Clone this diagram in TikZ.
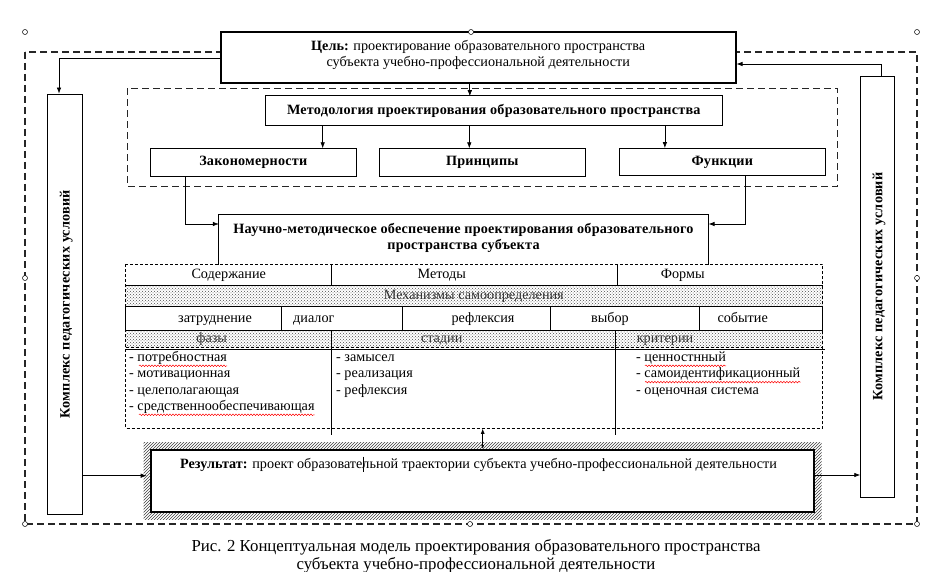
\documentclass[tikz,border=0pt]{standalone}
\usepackage{fontspec}
\setmainfont{Liberation Serif}
\newfontfamily\spc[LetterSpace=1.5]{Liberation Serif}
\usetikzlibrary{arrows.meta,patterns,decorations.pathmorphing}
\begin{document}
\begin{tikzpicture}[x=1pt,y=-1pt,
 box/.style={draw,line width=0.8pt,inner sep=0pt,align=center,font=\fontsize{14.2}{16.3}\selectfont},
 tb/.style={inner sep=0pt,text height=9.5pt,text depth=2.5pt,font=\fontsize{14.2}{16.3}\selectfont},
 arr/.style={-{Latex[length=6pt,width=4.5pt]},line width=0.7pt},
 bigdash/.style={dash pattern=on 7pt off 4pt,line width=1.4pt,draw=black!85},
 thindash/.style={dash pattern=on 3pt off 2pt,line width=0.6pt},
 dotrow/.style={pattern=crosshatch dots,pattern color=black!70},
 handle/.style={draw,fill=white,line width=0.5pt,circle,inner sep=0pt,minimum size=5pt},
 spell/.style={draw=red,line width=0.5pt,decorate,decoration={snake,amplitude=0.8pt,segment length=3pt}}
]
\useasboundingbox (0,0) rectangle (937,572);
\fill[white] (0,0) rectangle (937,572);

% outer dashed frame
\draw[bigdash] (25,52) rectangle (917,524);
% inner dashed frame
\draw[bigdash] (127.7,88.3) rectangle (837.3,186.7);

% goal
\node[box,line width=1.6pt,minimum width=515pt,minimum height=50.7pt,fill=white] (goal) at (478.2,57.4) {};
\node[tb,anchor=base] (goal1) at (478.2,50.5) {\textbf{Цель:} проектирование образовательного пространства};
\node[tb,anchor=base] (goal2) at (478.2,66.5) {субъекта учебно-профессиональной деятельности};

% methodology
\node[box,minimum width=457pt,minimum height=29.6pt] (meth) at (493.8,110.5) {\spc\bfseries Методология проектирования образовательного пространства};
\node[box,minimum width=206pt,minimum height=27.6pt] (zak) at (253.3,162.5) {\spc\bfseries Закономерности};
\node[box,minimum width=206pt,minimum height=28pt] (prin) at (482.3,162.8) {\spc\bfseries Принципы};
\node[box,minimum width=206pt,minimum height=27pt] (func) at (722.3,162) {\spc\bfseries Функции};

\draw[arr] (goal.south -| meth.north) ++(-24,0) -- ++(0,12.7);
\draw[arr] (meth.south -| zak.east) ++(-34,0) coordinate (z1) -- (z1 |- zak.north);
\draw[arr] (meth.south -| prin.north) ++(-13,0) coordinate (p1) -- (p1 |- prin.north);
\draw[arr] (meth.south -| func.west) ++(46,0) coordinate (f1) -- (f1 |- func.north);

% scientific-methodical box (three sides)
\node[inner sep=0pt,minimum width=489.3pt,minimum height=49.3pt] (sci) at (463.7,239.7) {};
\draw[line width=0.8pt] (sci.south west) -- (sci.north west) -- (sci.north east) -- (sci.south east);
\node[tb,anchor=base] (sci1) at (463.5,233.5) {\spc\bfseries Научно-методическое обеспечение проектирования образовательного};
\node[tb,anchor=base] (sci2) at (463.5,249.5) {\spc\bfseries пространства субъекта};

\coordinate (zb) at (185,176.3);
\draw[arr] (zb) -- (185,224) -- (sci.west |- 0,224);
\coordinate (fb) at (745.7,175.5);
\draw[arr] (fb) -- (745.7,224) -- (sci.east |- 0,224);

% table
\fill[dotrow] (125.7,285) rectangle (822.7,306.7);
\fill[dotrow] (125.7,330) rectangle (822.7,347.7);
\draw[thindash] (125.7,264.3) rectangle (822.7,428.3);
\draw[line width=0.6pt] (125.7,285) -- (822.7,285);
\draw[line width=0.8pt] (125.7,306.7) rectangle (822.7,330);
\draw[thindash] (125.7,347.7) -- (822.7,347.7);
\draw[line width=0.7pt] (125.7,349.5) -- (825,349.5);
\draw[line width=0.6pt] (331,264.3) -- (331,285);
\draw[line width=0.6pt] (617.7,264.3) -- (617.7,285);
\foreach \xx in {281.7,402.3,550.3,699.3} \draw[line width=0.6pt] (\xx,306.7) -- (\xx,330);
\draw[line width=0.8pt] (331,330) -- (331,435);
\draw[line width=0.8pt] (615,330) -- (615,435);

\node[tb] (c1) at (228.7,275) {Содержание};
\node[tb] (c2) at (441.7,275) {Методы};
\node[tb] (c3) at (682.7,275) {Формы};
\node[tb,text=black!80] (mech) at (473.8,296.3) {Механизмы самоопределения};
\node[tb] (m1) at (215,318.6) {затруднение};
\node[tb,anchor=west] (m2) at (293,318.6) {диалог};
\node[tb] (m3) at (483,318.6) {рефлексия};
\node[tb] (m4) at (610,318.6) {выбор};
\node[tb] (m5) at (742.7,318.6) {событие};
\node[tb,text=black!80] (h1) at (211.7,339.2) {фазы};
\node[tb,text=black!80] (h2) at (441.7,339.2) {стадии};
\node[tb,text=black!80] (h3) at (665,339.2) {критерии};

\node[tb,anchor=west] (a1) at (129,358) {- потребностная};
\node[tb,anchor=west] (a2) at (129,374.3) {- мотивационная};
\node[tb,anchor=west] (a3) at (129,390.6) {- целеполагающая};
\node[tb,anchor=west] (a4) at (129,406.9) {- средственнообеспечивающая};
\node[tb,anchor=west] (b1) at (336,358) {- замысел};
\node[tb,anchor=west] (b2) at (336,374.3) {- реализация};
\node[tb,anchor=west] (b3) at (336,390.6) {- рефлексия};
\node[tb,anchor=west] (d1) at (636,358) {- ценностнный};
\node[tb,anchor=west] (d2) at (636,374.3) {- самоидентификационный};
\node[tb,anchor=west] (d3) at (636,390.6) {- оценочная система};

\draw[spell] (139,365.8) -- (a1.east |- 0,365.8);
\draw[spell] (139,414.8) -- (a4.east |- 0,414.8);
\draw[spell] (645,365.8) -- (d1.east |- 0,365.8);
\draw[spell] (645,382.1) -- (d2.east |- 0,382.1);

% result
\fill[pattern=north east lines,pattern color=black!75] (143.5,442.5) rectangle (821.5,519.5);
\node[box,line width=1.6pt,fill=white,minimum width=663.3pt,minimum height=61.7pt] (res) at (482.35,480.85) {};
\node[tb,anchor=west] (restxt) at (180,464.5) {\textbf{Результат:} проект образовательной траектории субъекта учебно-профессиональной деятельности};
\draw[line width=0.8pt] (363.3,456.7) -- (363.3,471.7);

\coordinate (tbot) at (482.7,428.8);
\draw[{Latex[length=5pt,width=4pt]}-{Latex[length=4pt,width=3pt]},line width=0.7pt] (tbot) -- (482.7,449);

% side boxes
\node[box,minimum width=35pt,minimum height=420pt] (lbox) at (64.5,304) {};
\node[tb,rotate=90] (ltxt) at (66,304) {\spc\bfseries Комплекс педагогических условий};
\node[box,minimum width=33.3pt,minimum height=421pt] (rbox) at (877.3,286.5) {};
\node[tb,rotate=90] (rtxt) at (878.8,286.5) {\spc\bfseries Комплекс педагогических условий};

\draw[arr] (goal.west |- 0,58) -- (59,58) -- (59,0 |- lbox.north);
\draw[arr] (rbox.north -| 881.7,0) -- (881.7,64) -- (goal.east |- 0,64);
\draw[arr] (lbox.east |- 0,475.7) -- (146.7,475.7);
\draw[arr] (res.east |- 0,475) -- (rbox.west |- 0,475);

% handles
\foreach \p in {(25,32),(471,32),(917,32),(25,278),(917,278),(25,524),(470,524),(917,524)}
  \node[handle] at \p {};

% caption
\node[tb,font=\fontsize{16.8}{18}\selectfont] (cap1) at (476,548) {Рис. 2 Концептуальная модель проектирования образовательного пространства};
\node[tb,font=\fontsize{16.8}{18}\selectfont] (cap2) at (476,566) {субъекта учебно-профессиональной деятельности};
\end{tikzpicture}
\end{document}
